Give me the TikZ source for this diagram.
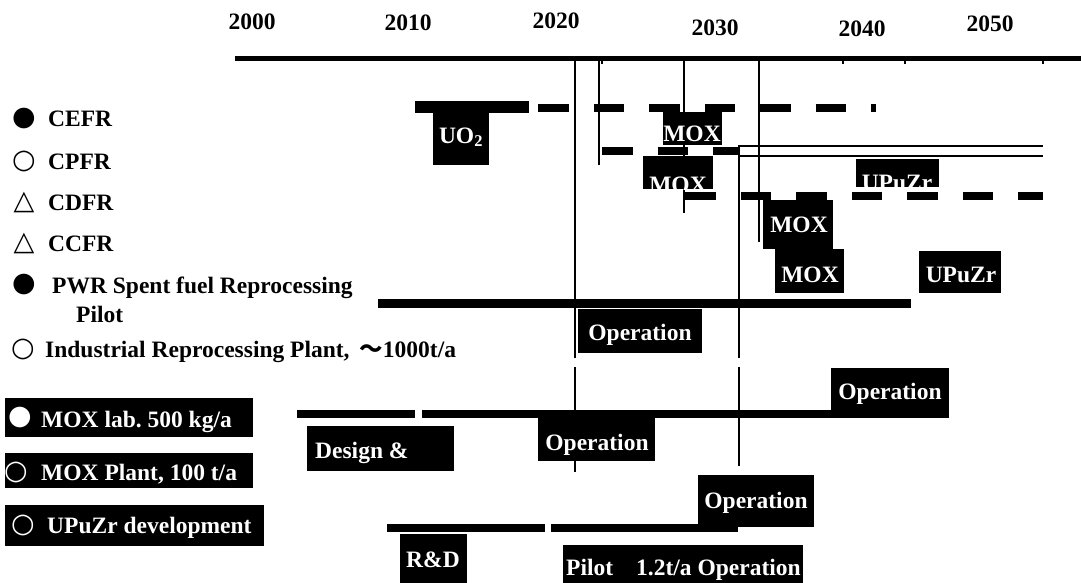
\documentclass[tikz,border=0pt]{standalone}
\usepackage{fontspec}
\setmainfont{Liberation Serif}
\newfontfamily\symf{DejaVu Sans}
\newfontfamily\cjk{Noto Sans CJK SC}
\begin{document}
\begin{tikzpicture}[x=1pt,y=-1pt,
  txt/.style={font=\bfseries\fontsize{23.5}{27}\selectfont, inner sep=0pt},
  yr/.style={txt, anchor=base},
  leg/.style={txt, anchor=base west},
  wt/.style={txt, text=white, anchor=base},
  wtl/.style={txt, text=white, anchor=base west},
  sym/.style={font=\symf\fontsize{27}{31}\selectfont, inner sep=0pt, anchor=center},
  tri/.style={font=\symf\fontsize{27}{31}\selectfont, inner sep=0pt, anchor=center},
  vl/.style={line width=1.6pt},
  bar/.style={line width=8pt},
  dsh/.style={line width=7.5pt, dash pattern=on 30.5pt off 25pt},
  blk/.style={fill=black}
]
\useasboundingbox[fill=white] (0,0) rectangle (1081,583);

% time axis
\draw[line width=5pt] (235,58.5) -- (1081,58.5);
\foreach \t in {602,843,905,1043} \draw[line width=1.5pt] (\t,58) -- (\t,64);
\node[yr] (y2000) at (252,30) {2000};
\node[yr] (y2010) at (408,31) {2010};
\node[yr] (y2020) at (556,29) {2020};
\node[yr] (y2030) at (715,36) {2030};
\node[yr] (y2040) at (862,37) {2040};
\node[yr] (y2050) at (990,32) {2050};

% vertical milestone lines
\draw[vl] (575,58) -- (575,358) (575,367) -- (575,472);
\draw[vl] (599,58) -- (599,165);
\draw[vl] (684,58) -- (684,213);
\draw[vl] (759,58) -- (759,242);
\draw[vl] (739,147) -- (739,358) (739,367) -- (739,466);

% CEFR
\draw[line width=12pt] (415,107) -- (529,107);
\draw[dsh] (538,108) -- (876,108);
% CPFR
\draw[dsh] (602,151) -- (738,151);
\draw[line width=1.8pt] (738,146) -- (1043,146) (738,156) -- (1043,156);
% CDFR
\draw[dsh] (685,196) -- (1043,196);
% PWR pilot
\draw[line width=9pt] (378,303) -- (911,303);
% MOX lab
\draw[bar] (297,414) -- (415,414) (422,414) -- (836,414);
% UPuZr
\draw[bar] (387,528) -- (545,528) (551,528) -- (738,528);

% boxes
\fill[blk] (433,112) rectangle (489,165);
\node[wt] (uo2) at (461,143) {UO\textsubscript{2}};
\fill[blk] (663,112) rectangle (722,145);
\node[wt] (mox1) at (692,142) {MOX};
\fill[blk] (643,156) rectangle (713,189);
\begin{scope}
\clip (643,156) rectangle (713,189);
\node[wt] (mox2) at (678,192) {MOX};
\end{scope}
\fill[blk] (856,159) rectangle (939,187);
\begin{scope}
\clip (856,159) rectangle (939,187);
\node[wt] (upz1) at (897,190) {UPuZr};
\end{scope}
\fill[blk] (763,200) rectangle (833,249);
\node[wt] (mox3) at (799,232) {MOX};
\fill[blk] (775,249) rectangle (844,293);
\node[wt] (mox4) at (810,282) {MOX};
\fill[blk] (919,251) rectangle (1001,293);
\node[wt] (upz2) at (961,282) {UPuZr};
\fill[blk] (578,309) rectangle (702,353);
\node[wt] (op1) at (640,340) {Operation};
\fill[blk] (831,368) rectangle (949,418);
\node[wt] (op2) at (890,399) {Operation};
\fill[blk] (307,426) rectangle (454,471);
\node[wtl] (des) at (315,458) {Design \&};
\fill[blk] (538,418) rectangle (655,461);
\node[wt] (op3) at (597,450) {Operation};
\fill[blk] (698,475) rectangle (814,527);
\node[wt] (op4) at (756,508) {Operation};
\fill[blk] (400,534) rectangle (467,583);
\node[wt] (rd) at (433,567) {R\&D};
\fill[blk] (563,545) rectangle (803,583);
\node[wtl] (pil) at (566,575) {Pilot\hspace{23pt}1.2t/a Operation};

% legend
\node[sym] (s1) at (24,119) {●};
\node[leg] (l1) at (48,127) {CEFR};
\node[sym] (s2) at (24,161) {○};
\node[leg] (l2) at (48,169) {CPFR};
\node[tri] (s3) at (24,202) {△};
\node[leg] (l3) at (48,210) {CDFR};
\node[tri] (s4) at (24,243) {△};
\node[leg] (l4) at (48,251) {CCFR};
\node[sym] (s5) at (24,285) {●};
\node[leg] (l5) at (52,293) {PWR Spent fuel Reprocessing};
\node[leg] (l5b) at (76,322) {Pilot};
\node[sym] (s6) at (23,349) {○};
\node[leg] (l6) at (45,357) {Industrial Reprocessing Plant,\ \,{\cjk ～}1000t/a};

\fill[blk] (5,398) rectangle (253,437);
\node[sym, text=white] (s7) at (20,418) {●};
\node[wtl] (l7) at (41,427) {MOX lab.\ 500 kg/a};
\fill[blk] (5,453) rectangle (253,488);
\node[sym, text=white] (s8) at (16,472) {○};
\node[wtl] (l8) at (41,480) {MOX Plant, 100 t/a};
\fill[blk] (5,505) rectangle (264,546);
\node[sym, text=white] (s9) at (23,525) {○};
\node[wtl] (l9) at (47,533) {UPuZr development};
\end{tikzpicture}
\end{document}
